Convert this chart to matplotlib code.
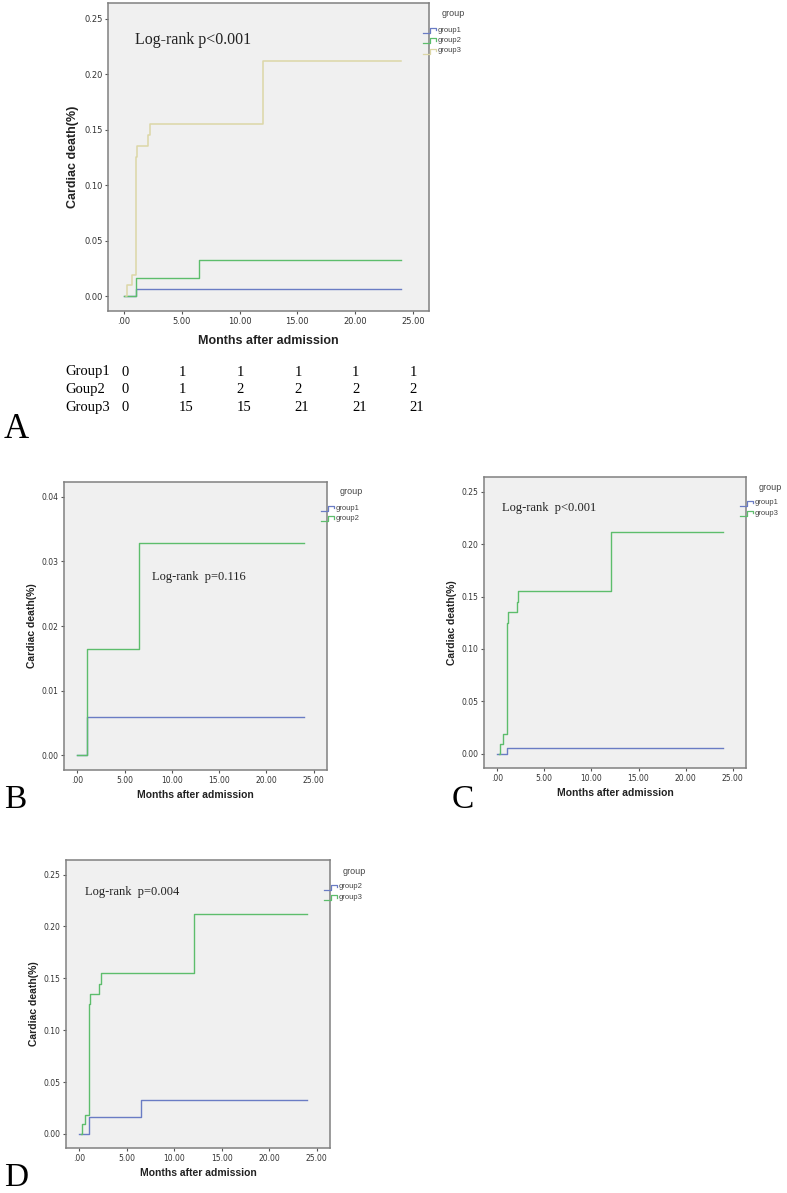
import matplotlib
matplotlib.use('Agg')
import matplotlib.pyplot as plt
from matplotlib.lines import Line2D
from matplotlib.transforms import blended_transform_factory, offset_copy

# cumulative cardiac death, step data (months, proportion)
g1_t = [0, 1.0, 24]
g1_y = [0, 0.0059, 0.0059]
g2_t = [0, 1.0, 6.5, 24]
g2_y = [0, 0.0164, 0.0328, 0.0328]
g3_t = [0.15, 0.25, 0.65, 1.0, 1.15, 2.05, 2.25, 12.05, 24]
g3_y = [0, 0.0096, 0.0186, 0.125, 0.135, 0.145, 0.155, 0.212, 0.212]

xticks = [0, 5, 10, 15, 20, 25]
xticklabels = ['.00', '5.00', '10.00', '15.00', '20.00', '25.00']

# events table under panel A
table_rows = ['Group1', 'Goup2', 'Group3']
table_vals = [[0, 1, 1, 1, 1, 1],
              [0, 1, 2, 2, 2, 2],
              [0, 15, 15, 21, 21, 21]]

BLUE = '#6a7cc4'
GREEN = '#5dbd6c'
BEIGE = '#dcd7a6'
BG = '#f0f0f0'
W, H = 787, 1193

fig = plt.figure(figsize=(W / 100, H / 100), dpi=100)


def px_axes(l, t, r, b):
    return fig.add_axes([l / W, 1 - b / H, (r - l) / W, (b - t) / H])


def style(ax, ylim, yticks, ylabels, fs=5.5, xfs=7.5, lpad=3, xpad=4):
    ax.set_facecolor(BG)
    ax.set_xlim(-1.4, 26.4)
    ax.set_ylim(*ylim)
    ax.set_xticks(xticks)
    ax.set_xticklabels(xticklabels)
    ax.set_yticks(yticks)
    ax.set_yticklabels(ylabels)
    ax.tick_params(labelsize=fs, colors='#555555', length=2.5, width=0.8, pad=1.5,
                   labelcolor='#333333')
    for s in ax.spines.values():
        s.set_color('#808080')
        s.set_linewidth(1.1)
    ax.set_xlabel('Months after admission', fontsize=xfs, fontweight='bold', labelpad=xpad,
                  family='Liberation Sans', color='#222222')
    ax.set_ylabel('Cardiac death(%)', fontsize=xfs, fontweight='bold', labelpad=lpad,
                  family='Liberation Sans', color='#222222')


def legend(x, y, names, colors, dy=10.5, fs=5.5):
    fig.text((x + 8) / W, 1 - y / H, 'group', fontsize=fs + 1, color='#444444',
             family='Liberation Sans', va='center')
    for i, (n, c) in enumerate(zip(names, colors)):
        yy = y + 16 + i * dy
        xs = [x - 11, x - 4, x - 4, x + 2, x + 2]
        ys = [yy + 2.5, yy + 2.5, yy - 2.5, yy - 2.5, yy]
        fig.add_artist(Line2D([v / W for v in xs], [1 - v / H for v in ys], color=c, lw=0.9))
        fig.text((x + 4) / W, 1 - yy / H, n, fontsize=fs, color='#444444',
                 family='Liberation Sans', va='center')


t025 = [0, 0.05, 0.10, 0.15, 0.20, 0.25]
l025 = ['0.00', '0.05', '0.10', '0.15', '0.20', '0.25']

# Panel A
axA = px_axes(108, 3, 429, 311)
axA.step(g1_t, g1_y, where='post', color=BLUE, lw=1)
axA.step(g2_t, g2_y, where='post', color=GREEN, lw=1)
axA.step(g3_t, g3_y, where='post', color=BEIGE, lw=1.1)
style(axA, (-0.0135, 0.264), t025, l025, fs=6, xfs=9, lpad=4, xpad=7)
axA.text(0.084, 0.88, 'Log-rank p<0.001', transform=axA.transAxes, fontsize=11.5,
         family='Liberation Serif', color='#222222', va='center')
legend(434, 14, ['group1', 'group2', 'group3'], [BLUE, GREEN, BEIGE])

trans = offset_copy(blended_transform_factory(axA.transData, fig.transFigure),
                    fig=fig, x=-3, y=0, units='dots')
for i, row in enumerate(table_rows):
    yy = 1 - (372 + i * 17.5) / H
    fig.text(65 / W, yy, row, fontsize=10.5, family='Liberation Serif', va='center')
    for xv, v in zip(xticks, table_vals[i]):
        fig.text(xv, yy, str(v), transform=trans, fontsize=10.5, family='Liberation Serif',
                 va='center', ha='left')
fig.text(4 / W, 1 - 438 / H, 'A', fontsize=25, family='Liberation Serif')

# Panel B
axB = px_axes(64, 482, 327, 770)
axB.step(g1_t, g1_y, where='post', color=BLUE, lw=1)
axB.step(g2_t, g2_y, where='post', color=GREEN, lw=1)
style(axB, (-0.0023, 0.0423), [0, 0.01, 0.02, 0.03, 0.04],
      ['0.00', '0.01', '0.02', '0.03', '0.04'])
axB.text(0.335, 0.67, 'Log-rank  p=0.116', transform=axB.transAxes, fontsize=9,
         family='Liberation Serif', color='#222222', va='center')
legend(332, 492, ['group1', 'group2'], [BLUE, GREEN])
fig.text(4 / W, 1 - 808 / H, 'B', fontsize=24, family='Liberation Serif')

# Panel C
axC = px_axes(484, 477, 746, 768)
axC.step(g1_t, g1_y, where='post', color=BLUE, lw=1)
axC.step(g3_t, g3_y, where='post', color=GREEN, lw=1)
style(axC, (-0.0135, 0.264), t025, l025)
axC.text(0.069, 0.893, 'Log-rank  p<0.001', transform=axC.transAxes, fontsize=9,
         family='Liberation Serif', color='#222222', va='center')
legend(751, 487, ['group1', 'group3'], [BLUE, GREEN])
fig.text(452 / W, 1 - 808 / H, 'C', fontsize=24, family='Liberation Serif')

# Panel D
axD = px_axes(66, 860, 330, 1148)
axD.step(g2_t, g2_y, where='post', color=BLUE, lw=1)
axD.step(g3_t, g3_y, where='post', color=GREEN, lw=1)
style(axD, (-0.0135, 0.264), t025, l025)
axD.text(0.072, 0.889, 'Log-rank  p=0.004', transform=axD.transAxes, fontsize=9,
         family='Liberation Serif', color='#222222', va='center')
legend(335, 871, ['group2', 'group3'], [BLUE, GREEN])
fig.text(4 / W, 1 - 1186 / H, 'D', fontsize=24, family='Liberation Serif')

plt.savefig('out.png', dpi=100, facecolor='white')
